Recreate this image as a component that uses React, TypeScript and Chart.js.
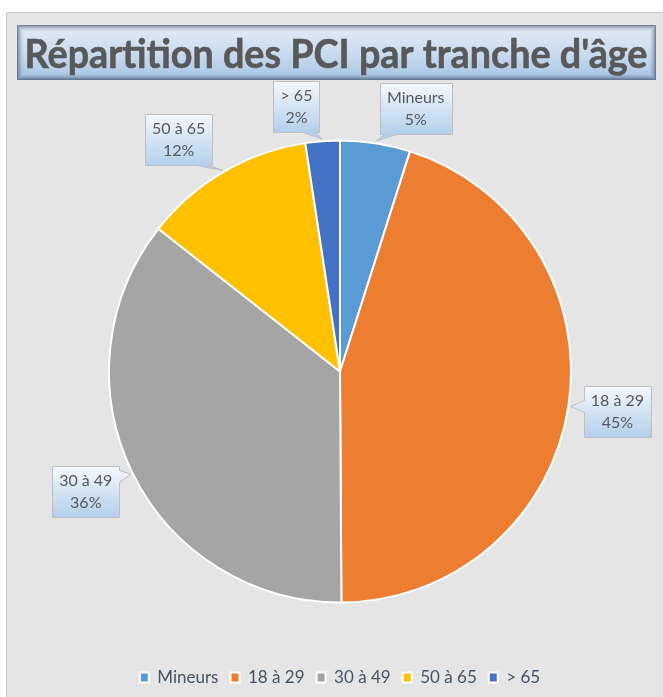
import React, { useEffect, useRef } from "react";
import { Chart, registerables } from "chart.js";

Chart.register(...registerables);

const chartTitle = "Répartition des PCI par tranche d'âge";
const categories = ["Mineurs", "18 à 29", "30 à 49", "50 à 65", "> 65"];
const shares = [4.9, 45.0, 35.7, 12.0, 2.4];
const sliceColors = ["#5B9BD5", "#ED7D31", "#A5A5A5", "#FFC000", "#4472C4"];

const FONT = "Lato, 'Open Sans', sans-serif";

// background + title box
const framePlugin = {
  id: "frame",
  beforeDraw(chart: any) {
    const ctx = chart.ctx;
    const W = chart.width, H = chart.height;
    ctx.save();
    ctx.fillStyle = "#FFFFFF";
    ctx.fillRect(0, 0, W, H);
    ctx.fillStyle = "#E5E5E5";
    ctx.fillRect(6, 13, W - 6, H - 13);
    ctx.strokeStyle = "#CACACA";
    ctx.lineWidth = 1;
    ctx.beginPath();
    ctx.moveTo(6.5, H);
    ctx.lineTo(6.5, 12.5);
    ctx.lineTo(W, 12.5);
    ctx.stroke();

    // title box
    const L = 17, T = 25, R = 656, B = 80;
    const g = ctx.createLinearGradient(0, T, 0, B);
    g.addColorStop(0, "#E3ECF6");
    g.addColorStop(0.5, "#CADCEF");
    g.addColorStop(1, "#A6C4E5");
    ctx.fillStyle = g;
    ctx.fillRect(L, T, R - L, B - T);
    for (let i = 0; i < 7; i++) {
      ctx.strokeStyle = `rgba(55,70,95,${0.6 * Math.pow(1 - i / 7, 2)})`;
      ctx.strokeRect(L + i + 0.5, T + i + 0.5, R - L - 2 * i - 1, B - T - 2 * i - 1);
    }
    ctx.font = `bold 40px ${FONT}`;
    const tw = ctx.measureText(chartTitle).width;
    const sx = 623 / tw;
    ctx.translate((L + R) / 2 - 0.5, 68);
    ctx.scale(sx, 1);
    ctx.fillStyle = "#595959";
    ctx.strokeStyle = "#595959";
    ctx.lineWidth = 0.6;
    ctx.textAlign = "center";
    ctx.textBaseline = "alphabetic";
    ctx.fillText(chartTitle, 0, 0);
    ctx.strokeText(chartTitle, 0, 0);
    ctx.restore();
  },
};

// data callouts
const calloutPlugin = {
  id: "callouts",
  afterDatasetsDraw(chart: any, _args: any, opts: any) {
    const ctx = chart.ctx;
    const meta = chart.getDatasetMeta(0);
    const values: number[] = chart.data.datasets[0].data;
    const total = values.reduce((a, b) => a + b, 0);
    const offsets: number[][] = opts.offsets;
    ctx.save();
    ctx.font = `16px ${FONT}`;
    meta.data.forEach((arc: any, i: number) => {
      const p = arc.getProps(["x", "y", "startAngle", "endAngle", "outerRadius"], true);
      const mid = (p.startAngle + p.endAngle) / 2;
      const tx = p.x + Math.cos(mid) * (p.outerRadius + 2);
      const ty = p.y + Math.sin(mid) * (p.outerRadius + 2);
      const cx = tx + offsets[i][0];
      const cy = ty + offsets[i][1];
      const lines = [chart.data.labels[i], Math.round((values[i] / total) * 100) + "%"];
      const tw = Math.max(...lines.map((s: string) => ctx.measureText(s).width));
      const w = Math.round(tw + 14);
      const h = 51;
      const L = Math.round(cx - w / 2) + 0.5, T = Math.round(cy - h / 2) + 0.5;
      const R = L + w, B = T + h;
      const pts: number[][] = [];
      const hw = 6;
      let edge = "left";
      if (ty > B) edge = "bottom";
      else if (ty < T) edge = "top";
      else if (tx > R) edge = "right";
      const cl = (v: number, a: number, b: number) => Math.max(a, Math.min(b, v));
      pts.push([L, T]);
      if (edge === "top") {
        const bx = cl(tx, L + 10, R - 10);
        pts.push([bx - hw, T], [tx, ty], [bx + hw, T]);
      }
      pts.push([R, T]);
      if (edge === "right") {
        const by = cl(ty, T + 10, B - 10);
        pts.push([R, by - hw], [tx, ty], [R, by + hw]);
      }
      pts.push([R, B]);
      if (edge === "bottom") {
        const bx = cl(tx, L + 10, R - 10);
        pts.push([bx + hw, B], [tx, ty], [bx - hw, B]);
      }
      pts.push([L, B]);
      if (edge === "left") {
        const by = cl(ty, T + 10, B - 10);
        pts.push([L, by + hw], [tx, ty], [L, by - hw]);
      }
      ctx.beginPath();
      pts.forEach((q, k) => (k ? ctx.lineTo(q[0], q[1]) : ctx.moveTo(q[0], q[1])));
      ctx.closePath();
      const g = ctx.createLinearGradient(0, T, 0, B);
      g.addColorStop(0, "#F4F8FC");
      g.addColorStop(1, "#B3CFEC");
      ctx.fillStyle = g;
      ctx.fill();
      ctx.strokeStyle = "#BFBFBF";
      ctx.lineWidth = 1;
      ctx.stroke();
      ctx.fillStyle = "#595959";
      ctx.textAlign = "center";
      ctx.textBaseline = "middle";
      ctx.fillText(lines[0], cx, T + h / 2 - 11);
      ctx.fillText(lines[1], cx, T + h / 2 + 11);
    });
    ctx.restore();
  },
};

export default function App() {
  const ref = useRef<HTMLCanvasElement | null>(null);
  useEffect(() => {
    document.body.style.margin = "0";
    document.body.style.overflow = "hidden";
    const chart = new Chart(ref.current as HTMLCanvasElement, {
      type: "pie",
      data: {
        labels: categories,
        datasets: [
          {
            data: shares,
            backgroundColor: sliceColors,
            borderColor: "#FFFFFF",
            borderWidth: 2,
            radius: 231,
          } as any,
        ],
      },
      options: {
        responsive: false,
        animation: false,
        devicePixelRatio: 1,
        layout: { padding: { top: 86, left: 17, right: 0, bottom: 1 } },
        plugins: {
          tooltip: { enabled: false },
          title: { display: false },
          legend: {
            position: "bottom",
            labels: {
              boxWidth: 9,
              boxHeight: 10,
              padding: 12,
              color: "#44546A",
              font: { family: FONT, size: 17 },
              generateLabels: (ch: any) =>
                ch.data.labels.map((l: string, i: number) => ({
                  text: l,
                  fillStyle: sliceColors[i],
                  strokeStyle: "#FFFFFF",
                  lineWidth: 2,
                  fontColor: "#44546A",
                  hidden: false,
                  index: i,
                })),
            },
          },
          callouts: {
            offsets: [
              [40, -33],
              [47, 5],
              [-45, 17],
              [-44, -31],
              [-26, -33],
            ],
          },
        } as any,
      },
      plugins: [framePlugin, calloutPlugin],
    });
    return () => chart.destroy();
  }, []);
  return (
    <canvas ref={ref} width={663} height={697} style={{ display: "block", width: 663, height: 697 }} />
  );
}
